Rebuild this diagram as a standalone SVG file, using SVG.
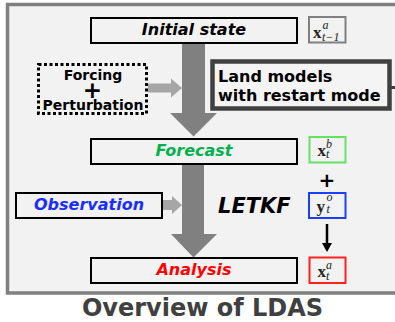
<svg xmlns="http://www.w3.org/2000/svg" width="395" height="322" viewBox="0 0 395 322">
<style>
.box{fill:#f2f2f2;stroke:#000;stroke-width:2}
.lbl{font-family:"DejaVu Sans",Verdana,sans-serif;font-weight:bold;font-style:italic;font-size:16px;text-anchor:middle}
.txt{font-family:"DejaVu Sans",Verdana,sans-serif;font-weight:bold}
.mbox{fill:#f2f2f2;stroke-width:2}
.m{font-family:"Liberation Serif","Times New Roman",serif;fill:#222}
.mv{font-weight:bold;font-size:17px}
.ms{font-style:italic;font-size:12px}
.big{fill:#808080}
.small{fill:#a6a6a6}
</style>
<rect x="0" y="0" width="395" height="322" fill="#fff"/>
<rect id="panel" x="7.5" y="4.5" width="400" height="288.5" fill="#f2f2f2" stroke="#808080" stroke-width="3.5"/>

<g id="connectors">
  <polygon class="big" points="182,43 205,43 205,113 217,113 193.5,136.5 170,113 182,113"/>
  <polygon class="big" points="182,164 204,164 204,234 217,234 193.5,257.5 171,234 182,234"/>
  <polygon class="small" points="148,83.5 171,83.5 171,78.5 182,88 171,97.5 171,92.5 148,92.5"/>
  <polygon class="small" points="163,200 172,200 172,196 182,205 172,214 172,210 163,210"/>
  <line x1="327" y1="224" x2="327" y2="244" stroke="#000" stroke-width="2.5"/>
  <polygon points="322,243 332,243 327,252" fill="#000"/>
  <line x1="391" y1="87.5" x2="395" y2="87.5" stroke="#404040" stroke-width="3"/>
</g>

<g id="initial-state">
  <rect class="box" x="91" y="18" width="206" height="25"/>
  <text class="lbl" x="194" y="34.5">Initial state</text>
</g>
<g id="x-prev">
  <rect class="mbox" x="309" y="17" width="36.5" height="25.5" stroke="#808080"/>
  <text class="m" x="313" y="37.5"><tspan class="mv">x</tspan></text>
  <text class="m ms" x="322.5" y="29">a</text>
  <text class="m ms" x="322" y="41" font-size="13px">t−1</text>
</g>
<g id="forcing">
  <rect x="38.5" y="64.5" width="108" height="49" fill="none" stroke="#000" stroke-width="3" stroke-dasharray="3 2.5"/>
  <text class="txt" x="93" y="79.5" font-size="14" text-anchor="middle">Forcing</text>
  <text class="txt" x="92.5" y="97.5" font-size="23" text-anchor="middle">+</text>
  <text class="txt" x="93" y="110" font-size="14" text-anchor="middle">Perturbation</text>
</g>
<g id="land-models">
  <rect x="212.5" y="61.5" width="177" height="47" fill="#f4f4f4" stroke="#404040" stroke-width="4.5"/>
  <text class="txt" x="218" y="82" font-size="16">Land models</text>
  <text class="txt" x="218" y="100.5" font-size="16">with restart mode</text>
</g>
<g id="forecast">
  <rect class="box" x="91" y="139" width="206" height="25"/>
  <text class="lbl" x="194" y="155.5" fill="#00b050">Forecast</text>
</g>
<g id="x-b">
  <rect class="mbox" x="309.5" y="137" width="36" height="25.5" stroke="#66e066"/>
  <text class="m" x="317.5" y="155.5"><tspan class="mv">x</tspan></text>
  <text class="m ms" x="326" y="148">b</text>
  <text class="m ms" x="326" y="158">t</text>
</g>
<g id="plus">
  <text class="txt" x="327" y="187" font-size="20" text-anchor="middle">+</text>
</g>
<g id="observation">
  <rect class="box" x="16" y="193" width="146" height="25"/>
  <text class="lbl" x="89" y="210" fill="#1a2fff">Observation</text>
</g>
<g id="letkf">
  <text class="txt" x="218" y="213" font-size="21" font-style="italic">LETKF</text>
</g>
<g id="y-o">
  <rect class="mbox" x="309" y="193" width="36.5" height="25" stroke="#1a3fff"/>
  <text class="m" x="316.5" y="211.5"><tspan class="mv">y</tspan></text>
  <text class="m ms" x="326.5" y="201">o</text>
  <text class="m ms" x="326.5" y="213">t</text>
</g>
<g id="analysis">
  <rect class="box" x="91" y="258" width="206" height="25"/>
  <text class="lbl" x="194" y="274.5" fill="#ff0000">Analysis</text>
</g>
<g id="x-a">
  <rect class="mbox" x="309.5" y="257.5" width="36" height="25.5" stroke="#ff2020"/>
  <text class="m" x="317.5" y="277"><tspan class="mv">x</tspan></text>
  <text class="m ms" x="326" y="268.5">a</text>
  <text class="m ms" x="326" y="280">t</text>
</g>
<g id="title">
  <text class="txt" x="202.5" y="316" font-size="24" fill="#404040" text-anchor="middle">Overview of LDAS</text>
</g>
</svg>
